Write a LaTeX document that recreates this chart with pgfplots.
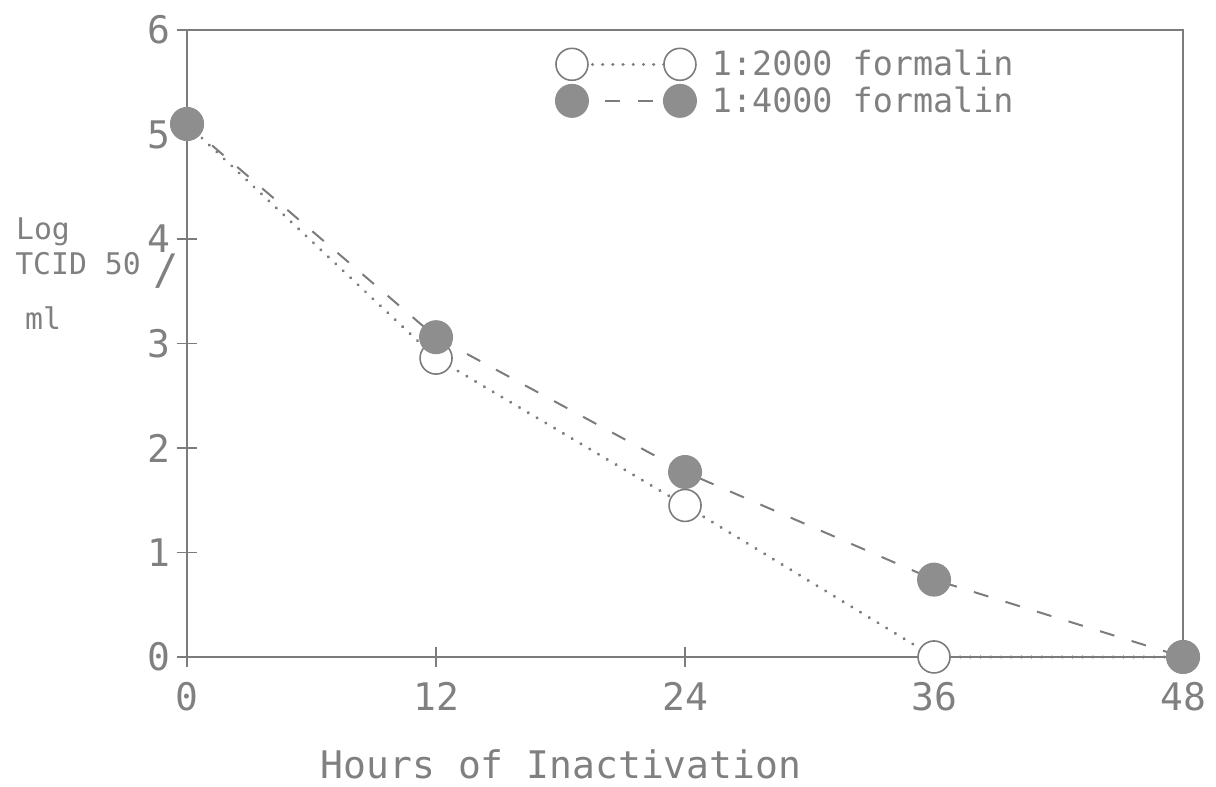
\documentclass[border=0pt]{standalone}
\usepackage{pgfplots}
\pgfplotsset{compat=1.18}
\usepackage{fontspec}
\setmainfont{DejaVu Sans Mono}
\definecolor{axgray}{HTML}{7C7C7C}
\definecolor{txtgray}{HTML}{808080}
\definecolor{markgray}{HTML}{8E8E8E}
\begin{document}
\begin{tikzpicture}
\begin{axis}[
  scale only axis, width=498pt, height=313.5pt,
  xmin=0, xmax=48, ymin=0, ymax=6,
  xtick={0,12,24,36,48}, ytick={0,1,2,3,4,5,6},
  tick align=center, xtick pos=bottom, ytick pos=left,
  major tick length=10pt,
  tick style={axgray, line width=0.8pt},
  axis line style={axgray, line width=1pt},
  clip=false,
  /pgf/number format/assume math mode=true,
  ticklabel style={font=\fontsize{19}{22}\selectfont, text=txtgray},
  xticklabel style={yshift=-4pt},
  xlabel={Hours of Inactivation},
  xlabel style={at={(rel axis cs:0.3755,-0.1707)}, anchor=center, font=\fontsize{19}{22}\selectfont, text=txtgray},
  legend style={at={(rel axis cs:0.37,0.975)}, anchor=north west, draw=none, fill=none,
    font=\fontsize{16.7}{18}\selectfont, text=txtgray, row sep=0pt, inner sep=0pt,
    /tikz/column sep=6pt},
  legend cell align=left,
  legend image code/.code={\draw[#1] plot coordinates {(0pt,0pt) (54pt,0pt)};},
]
\addplot[color=axgray, line width=1.6pt, dash pattern=on 0.1pt off 5pt, line cap=round,
  mark=*, mark size=8pt, mark options={solid, draw=axgray, fill=white, line width=0.8pt}]
  coordinates {(0,5.1) (12,2.86) (24,1.45) (36,0) (48,0)};
\addlegendentry{1:2000 formalin}
\addplot[color=axgray, line width=1pt, dash pattern=on 7.5pt off 9pt,
  mark=*, mark size=8pt, mark options={solid, draw=markgray, fill=markgray}]
  coordinates {(0,5.1) (12,3.06) (24,1.77) (36,0.74) (48,0)};
\addlegendentry{1:4000 formalin}
\node[text=txtgray, font=\fontsize{14.9}{16}\selectfont] at (rel axis cs:-0.1446,0.678) {Log};
\node[text=txtgray, font=\fontsize{14.9}{16}\selectfont] at (rel axis cs:-0.1094,0.627) {TCID 50};
\node[text=txtgray, font=\fontsize{21}{24}\selectfont, inner sep=0pt] at (rel axis cs:-0.0211,0.615) {/};
\node[text=txtgray, font=\fontsize{14.9}{16}\selectfont] at (rel axis cs:-0.1446,0.5407) {ml};
\path (rel axis cs:-0.1878,-0.2073) rectangle (rel axis cs:1.0331,1.0478);
\end{axis}
\end{tikzpicture}
\end{document}
